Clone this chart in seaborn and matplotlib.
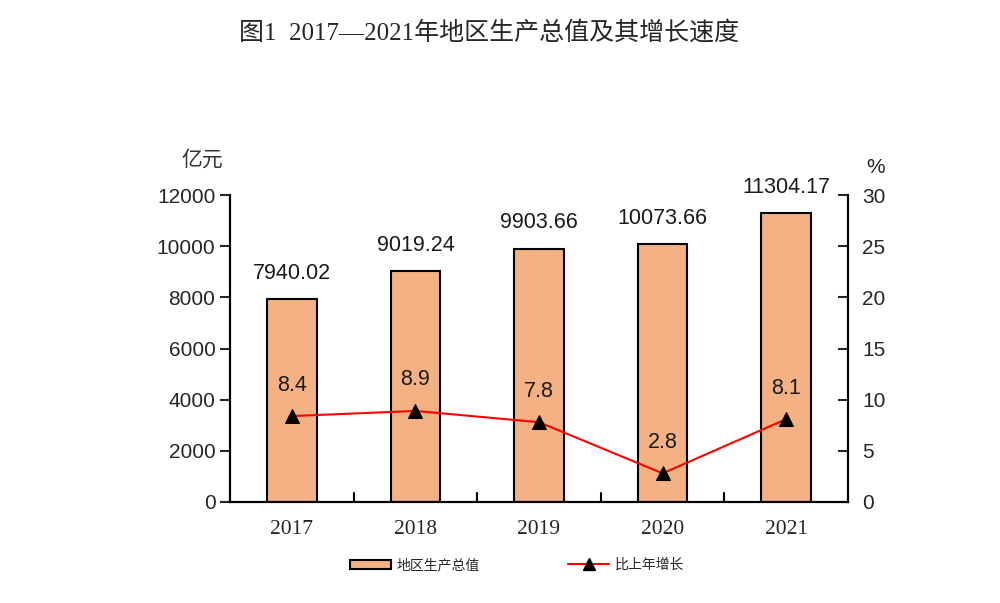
import matplotlib
matplotlib.use('Agg')
import matplotlib.pyplot as plt
from matplotlib.patches import Patch
from matplotlib.lines import Line2D
import numpy as np
import pandas as pd
import seaborn as sns

years = ['2017', '2018', '2019', '2020', '2021']
gdp = [7940.02, 9019.24, 9903.66, 10073.66, 11304.17]
growth = [8.4, 8.9, 7.8, 2.8, 8.1]
gdp_labels = ['7940.02', '9019.24', '9903.66', '10073.66', '11304.17']

sns.set_style('white')
plt.rcParams['font.family'] = ['Liberation Sans', 'Noto Sans CJK SC']
serif = ['Liberation Serif', 'Noto Sans CJK SC']

df = pd.DataFrame({'year': years, 'gdp': gdp, 'growth': growth})

fig = plt.figure(figsize=(10, 6.03), dpi=100)
ax = fig.add_axes([0.23, 0.1675, 0.618, 0.509])

sns.barplot(data=df, x='year', y='gdp', ax=ax, color='#F4B183', saturation=1,
            width=0.4, edgecolor='black', linewidth=1.5)
ax.set_xlim(-0.5, 4.5)
ax.set_ylim(0, 12000)
ax.set_yticks(np.arange(0, 12001, 2000))
ax.set_xlabel('')
ax.set_ylabel('')
for i, v in enumerate(gdp):
    ax.text(i, v + 600, gdp_labels[i], ha='center', va='bottom', fontsize=15.5,
            color='#1a1a1a')

ax2 = ax.twinx()
sns.lineplot(x=np.arange(len(growth)), y=growth, ax=ax2, color='#FF0000', linewidth=1.5,
             marker='^', markersize=10, markerfacecolor='black', markeredgecolor='black')
ax2.set_ylim(0, 30)
ax2.set_yticks(np.arange(0, 31, 5))
ax2.set_xlim(-0.5, 4.5)
for i, v in enumerate(growth):
    ax2.text(i, v + 2.0, f'{v}', ha='center', va='bottom', fontsize=15.5,
             color='#1a1a1a')

for a in (ax, ax2):
    for s in a.spines.values():
        s.set_color('black')
        s.set_linewidth(1.5)
    a.spines['top'].set_visible(False)

ax.tick_params(axis='y', direction='out', length=7, width=1.5, labelsize=15, left=True)
ax2.tick_params(axis='y', direction='in', length=7, width=1.5, labelsize=15, right=True, pad=10)
ax.set_xticks(np.arange(len(years)))
ax.set_xticklabels(years, fontfamily=serif, fontsize=15.5)
ax.tick_params(axis='x', length=0, pad=13)
for b in np.arange(0.5, 4.5, 1.0):
    ax.axvline(b, ymin=0, ymax=0.03, color='black', linewidth=1.5)

fig.text(0.202, 0.735, '亿元', fontsize=15, ha='center', va='center', color='#333333')
fig.text(0.876, 0.722, '%', fontsize=15, ha='center', va='center')

fig.suptitle('图1  2017—2021年地区生产总值及其增长速度', x=0.489, y=0.966, fontsize=18,
             fontfamily=serif)

handles = [Patch(facecolor='#F4B183', edgecolor='black', linewidth=1.5),
           Line2D([0], [0], color='#FF0000', linewidth=1.5, marker='^',
                  markersize=8, markerfacecolor='black', markeredgecolor='black')]
fig.legend(handles, ['地区生产总值', '比上年增长'], loc='center', ncol=2,
           bbox_to_anchor=(0.517, 0.063), frameon=False, fontsize=10,
           handlelength=3.0, handleheight=0.6, columnspacing=6.3, handletextpad=0.4)

fig.savefig('out.png', dpi=100)
